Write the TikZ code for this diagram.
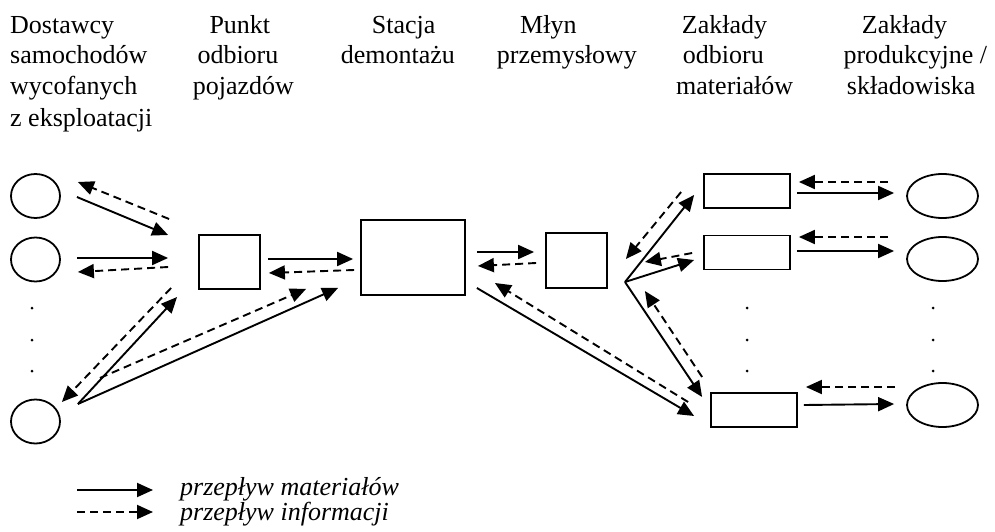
\documentclass[tikz,border=0pt]{standalone}
\usepackage{fontspec}
\setmainfont{Liberation Serif}
\usepackage{tikz}
\usetikzlibrary{arrows.meta,shapes.geometric,calc}

\begin{document}
\begin{tikzpicture}[x=1pt,y=-1pt,
  txt/.style={font=\fontsize{26}{31}\selectfont, inner sep=0pt},
  hd/.style={txt, anchor=base west},
  el/.style={ellipse, draw, line width=1.8pt, minimum width=49pt, minimum height=44pt, inner sep=0pt},
  ov/.style={ellipse, draw, line width=1.8pt, minimum width=71pt, minimum height=44pt, inner sep=0pt},
  sq/.style={draw, line width=1.8pt, minimum width=61pt, minimum height=54.5pt, inner sep=0pt},
  pl/.style={draw, line width=1.8pt, minimum width=86pt, minimum height=34pt, inner sep=0pt},
  mat/.style={line width=1.9pt, -{Triangle[length=16pt,width=14pt]}},
  inf/.style={mat, dash pattern=on 8pt off 5pt}]
  \useasboundingbox (0,0) rectangle (995,532);

  % column headings
  \node[hd] (h11) at (10,34) {Dostawcy};
  \node[hd] (h12) at (10,64) {samochodów};
  \node[hd] (h13) at (10,95) {wycofanych};
  \node[hd] (h14) at (10,126) {z eksploatacji};
  \node[hd] (h21) at (209.3,34) {Punkt};
  \node[hd] (h22) at (197.3,64) {odbioru};
  \node[hd] (h23) at (192.7,95) {pojazdów};
  \node[hd] (h31) at (371.7,34) {Stacja};
  \node[hd] (h32) at (340.7,64) {demontażu};
  \node[hd] (h41) at (520,34) {Młyn};
  \node[hd] (h42) at (496.7,64) {przemysłowy};
  \node[hd] (h51) at (681.7,34) {Zakłady};
  \node[hd] (h52) at (682.7,64) {odbioru};
  \node[hd] (h53) at (676,95) {materiałów};
  \node[hd] (h61) at (861.7,34) {Zakłady};
  \node[hd] (h62) at (843.3,64) {produkcyjne /};
  \node[hd] (h63) at (846.7,95) {składowiska};

  % suppliers, collection point, dismantling, shredder
  \node[el] (c1) at (35.5,196) {};
  \node[el] (c2) at (35.5,259.5) {};
  \node[el] (c3) at (35.5,421.5) {};
  \node[sq] (pu) at (229.5,262) {};
  \node[draw, line width=1.8pt, minimum width=104pt, minimum height=75pt] (st) at (413,257.5) {};
  \node[sq] (ml) at (576.5,260.5) {};
  % recovery plants and production / landfill
  \node[pl] (z1) at (747,191) {};
  \node[pl] (z2) at (747,252.5) {};
  \node[pl] (z3) at (754,410) {};
  \node[ov] (e1) at (942.5,196) {};
  \node[ov] (e2) at (942.5,259) {};
  \node[ov] (e3) at (942.5,405) {};
  \coordinate (br) at (625,282);

  \foreach \xx in {32,747,933}
    \foreach \yy in {308,340,371}
      \fill (\xx,\yy) circle (1.5);

  % suppliers <-> collection point
  \draw[mat] ($(c1.east)+(16,1)$) -- ($(pu.west)+(-30,-27)$);
  \draw[inf] ($(pu.west)+(-29,-43)$) -- ($(c1.east)+(17,-14)$);
  \draw[mat] ($(c2.east)+(16,-1.5)$) -- ($(pu.west)+(-30,-4)$);
  \draw[inf] ($(pu.west)+(-30,5)$) -- ($(c2.east)+(17,12.5)$);
  \draw[mat] ($(c3.east)+(17,-17.5)$) -- ($(pu.west)+(-21,35)$);
  \draw[inf] ($(pu.west)+(-27,26)$) -- ($(c3.east)+(1,-19.5)$);
  \draw[mat] ($(c3.east)+(17,-17.5)$) -- ($(st.south west)+(-22,-8)$);
  \draw[inf] ($(c3.east)+(39,-43.5)$) -- ($(st.south west)+(-54,-7)$);
  % collection point <-> dismantling
  \draw[mat] ($(pu.east)+(7,-3)$) -- ($(st.west)+(-7,1.5)$);
  \draw[inf] ($(st.west)+(-6,12.5)$) -- ($(pu.east)+(8,11)$);
  % dismantling <-> shredder and plants
  \draw[mat] ($(st.east)+(11,-5.5)$) -- ($(ml.west)+(-11,-8.5)$);
  \draw[inf] ($(ml.west)+(-9,2.5)$) -- ($(st.east)+(12,8.5)$);
  \draw[mat] ($(st.east)+(11,30.5)$) -- ($(z3.west)+(-16,6)$);
  \draw[inf] ($(z3.west)+(-22,-8)$) -- ($(st.east)+(29,25.5)$);
  % shredder -> plants
  \draw[mat] (br) -- ($(z1.west)+(-9,4)$);
  \draw[mat] (br) -- ($(z2.west)+(-9,7.5)$);
  \draw[mat] (br) -- ($(z3.west)+(-8,-13)$);
  \draw[inf] ($(z1.west)+(-22,1)$) -- ($(ml.east)+(18,-1.5)$);
  \draw[inf] ($(z2.west)+(-11,0.5)$) -- ($(ml.east)+(37,1.5)$);
  \draw[inf] ($(z3.west)+(-8,-33)$) -- ($(ml.east)+(37,30.5)$);
  % plants <-> production / landfill
  \draw[mat] ($(z1.east)+(6,2)$) -- ($(e1.west)+(-12,-3)$);
  \draw[inf] ($(e1.west)+(-18,-14)$) -- ($(z1.east)+(8,-9)$);
  \draw[mat] ($(z2.east)+(6,-1.5)$) -- ($(e2.west)+(-12,-8)$);
  \draw[inf] ($(e2.west)+(-18,-22)$) -- ($(z2.east)+(8,-15.5)$);
  \draw[mat] ($(z3.east)+(6,-5)$) -- ($(e3.west)+(-12,-1)$);
  \draw[inf] ($(e3.west)+(-11,-18)$) -- ($(z3.east)+(8,-23)$);

  % legend
  \node[hd, font=\fontsize{26}{31}\selectfont\itshape] (lm) at (180,495) {przepływ materiałów};
  \node[hd, font=\fontsize{26}{31}\selectfont\itshape] (li) at (180,520) {przepływ informacji};
  \coordinate (lm0) at (77,490);
  \coordinate (li0) at (77,512);
  \draw[mat] (lm0) -- (lm0 -| {$(lm.west)+(-27,0)$});
  \draw[inf] (li0) -- (li0 -| {$(li.west)+(-27,0)$});
\end{tikzpicture}
\end{document}
